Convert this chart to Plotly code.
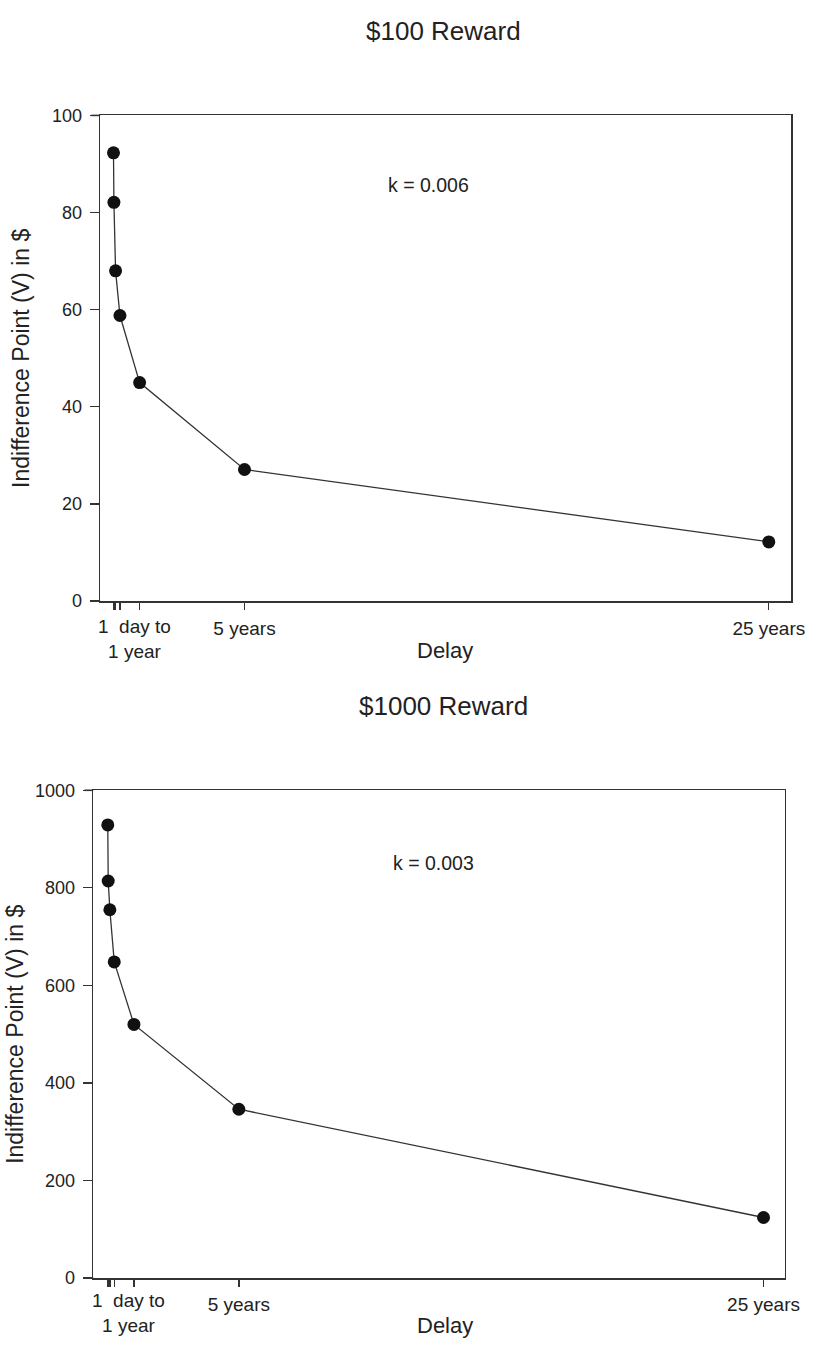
import plotly.graph_objects as go

W, H = 827, 1353

# Data (delays in years)
delay_years = [1/365, 7/365, 30/365, 91/365, 1, 5, 25]
value_100 = [92.3, 82.1, 68.0, 58.8, 45.0, 27.1, 12.2]
value_1000 = [929, 814, 755, 648, 520, 346, 124]
tick_vals = [1/365, 7/365, 30/365, 91/365, 1, 5, 25]
tick_text = ["", "", "", "", "", "5 years", "25 years"]
titles = ["$100 Reward", "$1000 Reward"]
k_labels = ["k = 0.006", "k = 0.003"]

FONT = "Liberation Sans, Arial, sans-serif"
INK = "#222222"
LINE = "#333333"

def px(x):
    return x / W

def py(y):
    return 1 - y / H

fig = go.Figure()

fig.add_trace(go.Scatter(x=delay_years, y=value_100, mode="lines+markers",
                         line=dict(color=LINE, width=1.3),
                         marker=dict(color="#111111", size=13),
                         xaxis="x", yaxis="y", showlegend=False, hoverinfo="skip"))
fig.add_trace(go.Scatter(x=delay_years, y=value_1000, mode="lines+markers",
                         line=dict(color=LINE, width=1.3),
                         marker=dict(color="#111111", size=13),
                         xaxis="x2", yaxis="y2", showlegend=False, hoverinfo="skip"))

common_x = dict(tickmode="array", tickvals=tick_vals, ticktext=tick_text,
                ticks="outside", ticklen=7, tickwidth=1.3, tickcolor=LINE,
                showline=True, linecolor=LINE, linewidth=1.6, mirror=True,
                showgrid=False, zeroline=False, ticklabelstandoff=2,
                tickfont=dict(family=FONT, size=19, color=INK))
common_y = dict(ticks="outside", ticklen=9, tickwidth=1.3, tickcolor=LINE,
                showline=True, linecolor=LINE, linewidth=1.6, mirror=True,
                showgrid=False, zeroline=False, ticklabelstandoff=4,
                tickfont=dict(family=FONT, size=18, color=INK))

panels = [
    dict(x0=102, x1=806, yt=107, yb=600, xr=[-0.506, 25.86], yr=[0, 100], dt=20),
    dict(x0=95, x1=799, yt=792, yb=1287, xr=[-0.55, 25.8], yr=[0, 1000], dt=200),
]

layout = dict(width=W, height=H, margin=dict(l=0, r=0, t=0, b=0),
              paper_bgcolor="white", plot_bgcolor="white", hovermode=False,
              font=dict(family=FONT, color=INK))

for i, p in enumerate(panels):
    sx = "" if i == 0 else "2"
    layout["xaxis" + sx] = dict(common_x, domain=[px(p["x0"]), px(p["x1"])],
                                range=p["xr"], anchor="y" + sx)
    layout["yaxis" + sx] = dict(common_y, domain=[py(p["yb"]), py(p["yt"])],
                                range=p["yr"], dtick=p["dt"], anchor="x" + sx)

fig.update_layout(**layout)

annotations = []
shapes = []
title_y = [21, 706]
delay_y = [650, 1335]
k_pos = [(436, 178), (442, 866)]
ytitle_x = [22, 15]
daylbl_y = [638, 1323]
daylbl_x = [137, 131]
for i, p in enumerate(panels):
    annotations.append(dict(text=titles[i], x=px(452), y=py(title_y[i]), xref="paper", yref="paper",
                            showarrow=False, font=dict(size=26, family=FONT, color=INK),
                            xanchor="center", yanchor="middle"))
    annotations.append(dict(text="Delay", x=px(453), y=py(delay_y[i]), xref="paper", yref="paper",
                            showarrow=False, font=dict(size=22, family=FONT, color=INK),
                            xanchor="center", yanchor="middle"))
    annotations.append(dict(text=k_labels[i], x=px(k_pos[i][0]), y=py(k_pos[i][1]), xref="paper", yref="paper",
                            showarrow=False, font=dict(size=19.5, family=FONT, color=INK),
                            xanchor="center", yanchor="middle"))
    annotations.append(dict(text="Indifference Point (V) in $", x=px(ytitle_x[i]),
                            y=py((p["yt"] + p["yb"]) / 2), xref="paper", yref="paper",
                            showarrow=False, textangle=-90, font=dict(size=23, family=FONT, color=INK),
                            xanchor="center", yanchor="middle"))
    annotations.append(dict(text="1\u00a0\u00a0day to<br>1 year", x=px(daylbl_x[i]), y=py(daylbl_y[i]),
                            xref="paper", yref="paper", showarrow=False, align="center",
                            font=dict(size=19, family=FONT, color=INK),
                            xanchor="center", yanchor="middle"))
    for yy in (p["yt"], p["yb"]):
        shapes.append(dict(type="line", xref="paper", yref="paper",
                           x0=px(p["x0"] - 9), x1=px(p["x0"]), y0=py(yy), y1=py(yy),
                           line=dict(color=LINE, width=1.6)))

fig.update_layout(annotations=annotations, shapes=shapes)

fig.write_html("out.html", config={"displayModeBar": False, "staticPlot": True},
               post_script="document.body.style.margin='0';document.body.style.overflow='hidden';")
